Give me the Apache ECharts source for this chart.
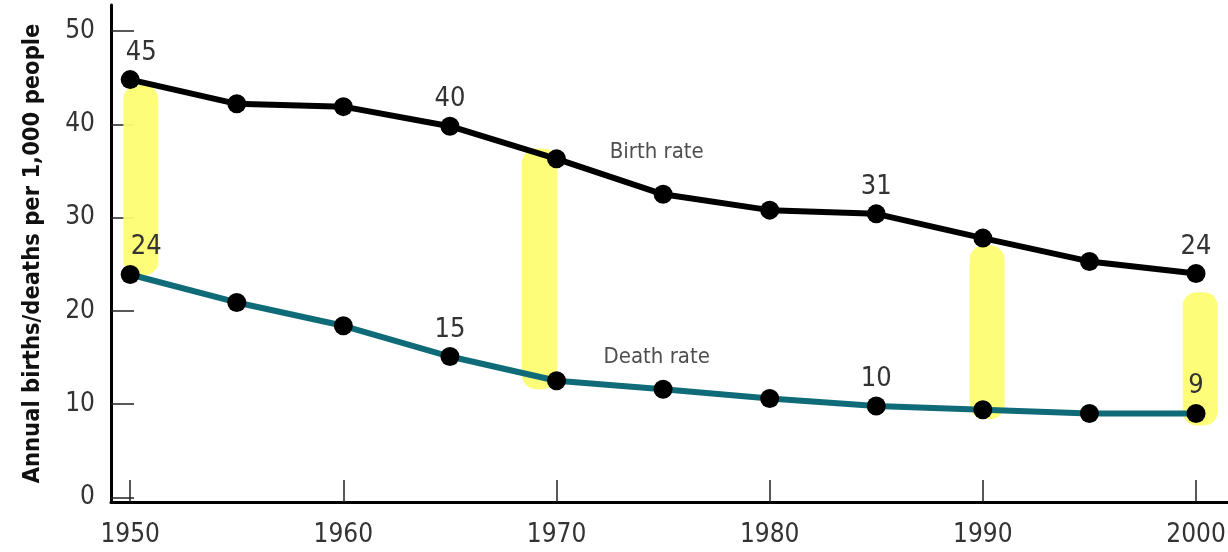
<!DOCTYPE html>
<html>
<head>
<meta charset="utf-8">
<script src="https://cdn.jsdelivr.net/npm/echarts@6/dist/echarts.min.js"></script>
<style>
html,body{margin:0;padding:0;background:#fff;}
#chart{width:1228px;height:552px;}
</style>
</head>
<body>
<div id="chart"></div>
<script>
// ---- data ----
var years = [1950, 1955, 1960, 1965, 1970, 1975, 1980, 1985, 1990, 1995, 2000];
var birthRate = [44.8, 42.2, 41.9, 39.8, 36.3, 32.5, 30.8, 30.4, 27.8, 25.3, 24.0];
var deathRate = [23.9, 20.9, 18.4, 15.1, 12.5, 11.6, 10.6, 9.8, 9.4, 9.0, 9.0];
var birthLabels = ['45', null, null, '40', null, null, null, '31', null, null, '24'];
var deathLabels = ['24', null, null, '15', null, null, null, '10', null, null, '9'];
var xTicks = [1950, 1960, 1970, 1980, 1990, 2000];
var yTicks = [0, 10, 20, 30, 40, 50];
// highlighter marks: [year, top value, bottom value]
var highlights = [[1950.5, 44.2, 23.8], [1969.2, 37.4, 11.6], [1990.2, 27.0, 8.4], [2000.2, 22.0, 7.7]];
var seriesNames = ['Birth rate', 'Death rate'];
var seriesNameAnchors = [[1974.7, 37.0], [1974.7, 15.0]];
var yAxisTitle = 'Annual births/deaths per 1,000 people';

var FONT = '"DejaVu Sans Condensed", "Liberation Sans Narrow", sans-serif';
var TXT = '#333333';

function build(vals, labels, firstOffset) {
  return years.map(function (y, i) {
    var item = { value: [y, vals[i]] };
    if (labels[i]) {
      item.label = {
        show: true, position: 'top', distance: 4,
        formatter: labels[i],
        offset: i === 0 ? [firstOffset, 0] : [0, 0]
      };
    }
    return item;
  });
}

var chart = echarts.init(document.getElementById('chart'));
chart.setOption({
  animation: false,
  backgroundColor: '#fff',
  grid: { left: 111, right: 0, top: 5, bottom: 50, containLabel: false, outerBoundsMode: 'none' },
  xAxis: {
    type: 'value', min: 1949.1, max: 2001.5,
    axisLine: { show: true, onZero: false, lineStyle: { color: '#000', width: 3 } },
    axisTick: { show: true, inside: true, length: 22, customValues: xTicks, lineStyle: { color: '#222', width: 1.5 } },
    axisLabel: { customValues: xTicks, margin: 20, fontFamily: FONT, fontSize: 26, color: TXT,
      formatter: function (v) { return String(v); } },
    splitLine: { show: false }
  },
  yAxis: {
    type: 'value', min: -0.5, max: 52.8,
    name: yAxisTitle, nameLocation: 'middle', nameGap: 66,
    nameTextStyle: { fontFamily: FONT, fontWeight: 'bold', fontSize: 23.5, color: '#111' },
    axisLine: { show: true, onZero: false, lineStyle: { color: '#000', width: 3 } },
    axisTick: { show: true, inside: true, length: 23, customValues: yTicks, lineStyle: { color: '#222', width: 1.5 } },
    axisLabel: { customValues: yTicks, margin: 16, fontFamily: FONT, fontSize: 26, color: TXT },
    splitLine: { show: false }
  },
  series: [
    {
      type: 'custom', z: 1, silent: true,
      data: highlights,
      renderItem: function (params, api) {
        var top = api.coord([api.value(0), api.value(1)]);
        var bot = api.coord([api.value(0), api.value(2)]);
        var w = 35;
        return {
          type: 'rect',
          shape: { x: top[0] - w / 2, y: top[1], width: w, height: bot[1] - top[1], r: 14 },
          style: { fill: '#fdfd72', opacity: 0.95 }
        };
      }
    },
    {
      name: seriesNames[0], type: 'line', z: 3,
      data: build(birthRate, birthLabels, 11),
      symbol: 'circle', symbolSize: 19,
      itemStyle: { color: '#000' },
      lineStyle: { color: '#000', width: 6 },
      label: { fontFamily: FONT, fontSize: 27, color: TXT }
    },
    {
      name: seriesNames[1], type: 'line', z: 3,
      data: build(deathRate, deathLabels, 16),
      symbol: 'circle', symbolSize: 19,
      itemStyle: { color: '#000' },
      lineStyle: { color: '#0f6b78', width: 6 },
      label: { fontFamily: FONT, fontSize: 27, color: TXT }
    },
    {
      type: 'scatter', z: 4, silent: true, symbolSize: 0,
      data: seriesNameAnchors.map(function (a, i) {
        return { value: a, label: { show: true, position: 'inside', formatter: seriesNames[i] } };
      }),
      label: { fontFamily: FONT, fontSize: 22, color: '#222' }
    }
  ]
});
</script>
</body>
</html>
